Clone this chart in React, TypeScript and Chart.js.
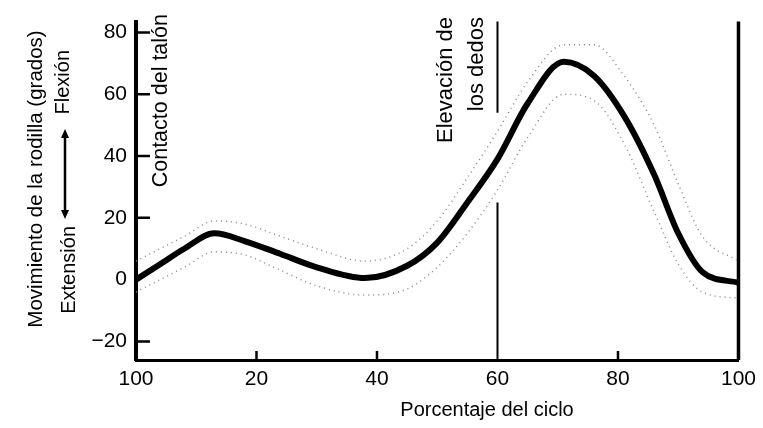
import React, { useEffect, useRef } from 'react';
import { Chart, registerables } from 'chart.js';

Chart.register(...registerables);

// ---- Data ----
const cyclePct = [0, 4, 8, 13, 18, 24, 30, 38, 45, 50, 55, 60, 65, 71, 76, 81, 86, 90, 94, 100];
const kneeMean = [0, 5, 10, 15, 12.5, 8.3, 4, 0.5, 4.5, 12, 25, 39, 57, 70.5, 66, 53, 34, 15, 2.5, -1];
const kneeUpper = [6, 10, 14, 19, 18, 14, 10, 6, 10, 19, 33, 48, 64, 76, 76, 66, 50, 31, 14, 6];
const kneeLower = [-4, 0, 4, 9, 8, 3, -2, -5, -3, 4, 15, 29, 46, 60, 58, 44, 22, 5, -4, -6];

const xTickValues = [0, 20, 40, 60, 80, 100];
const xTickLabels = ['100', '20', '40', '60', '80', '100'];
const yTickValues = [-20, 0, 20, 40, 60, 80];
const yTickLabels = ['\u221220', '0', '20', '40', '60', '80'];
const eventLines = [60, 100];
const toeOffGap = [25, 54];

const xTitle = 'Porcentaje del ciclo';
const yTitle = 'Movimiento de la rodilla (grados)';
const flexLabel = 'Flexión';
const extLabel = 'Extensión';
const heelLabel = 'Contacto del talón';
const toeLabel = ['Elevación de', 'los dedos'];

const FONT = '"Liberation Sans", Arial, Helvetica, sans-serif';

const pts = (ys: number[]) => cyclePct.map((x, i) => ({ x, y: ys[i] }));

const overlay = {
  id: 'overlay',
  beforeDatasetsDraw(chart: any) {
    const { ctx, chartArea, scales } = chart;
    const x = scales.x;
    const y = scales.y;
    ctx.save();
    ctx.strokeStyle = '#000';
    // toe-off line with gap around the curve
    const x60 = x.getPixelForValue(eventLines[0]);
    ctx.lineWidth = 2;
    ctx.beginPath();
    ctx.moveTo(x60, chartArea.top);
    ctx.lineTo(x60, y.getPixelForValue(toeOffGap[1]));
    ctx.moveTo(x60, y.getPixelForValue(toeOffGap[0]));
    ctx.lineTo(x60, chartArea.bottom);
    ctx.stroke();
    // end-of-cycle line
    const x100 = x.getPixelForValue(eventLines[1]);
    ctx.lineWidth = 3.5;
    ctx.beginPath();
    ctx.moveTo(x100, chartArea.top);
    ctx.lineTo(x100, chartArea.bottom);
    ctx.stroke();
    // inner tick marks
    ctx.lineWidth = 2.5;
    ctx.beginPath();
    for (const v of yTickValues) {
      if (v === 0) continue;
      const py = y.getPixelForValue(v);
      ctx.moveTo(chartArea.left, py);
      ctx.lineTo(chartArea.left + 14, py);
    }
    for (const v of xTickValues) {
      if (v === 0 || eventLines.includes(v)) continue;
      const px = x.getPixelForValue(v);
      ctx.moveTo(px, chartArea.bottom);
      ctx.lineTo(px, chartArea.bottom - 9);
    }
    ctx.stroke();
    ctx.restore();
  },
  afterDraw(chart: any) {
    const { ctx } = chart;
    ctx.save();
    ctx.fillStyle = '#000';
    const vText = (text: string, cx: number, topY: number, size: number, align: string = 'right') => {
      ctx.save();
      ctx.translate(cx, topY);
      ctx.rotate(-Math.PI / 2);
      ctx.textAlign = align;
      ctx.textBaseline = 'middle';
      ctx.font = `${size}px ${FONT}`;
      ctx.fillText(text, 0, 0);
      ctx.restore();
    };
    vText(yTitle, 36, 179, 20.5, 'center');
    vText(flexLabel, 63, 50, 20);
    vText(extLabel, 69, 226, 20);
    vText(heelLabel, 161, 14, 21.5);
    vText(toeLabel[0], 446, 17, 22);
    vText(toeLabel[1], 477, 17, 22);

    // double-headed arrow between Flexión and Extensión
    const ax = 65, ay1 = 129, ay2 = 219;
    ctx.strokeStyle = '#000';
    ctx.lineWidth = 2.5;
    ctx.beginPath();
    ctx.moveTo(ax, ay1 + 4);
    ctx.lineTo(ax, ay2 - 4);
    ctx.stroke();
    ctx.beginPath();
    ctx.moveTo(ax, ay1); ctx.lineTo(ax - 4, ay1 + 9); ctx.lineTo(ax + 4, ay1 + 9); ctx.closePath();
    ctx.moveTo(ax, ay2); ctx.lineTo(ax - 4, ay2 - 9); ctx.lineTo(ax + 4, ay2 - 9); ctx.closePath();
    ctx.fill();

    ctx.font = `20px ${FONT}`;
    ctx.textAlign = 'center';
    ctx.textBaseline = 'middle';
    ctx.fillText(xTitle, 487, 410);
    ctx.restore();
  },
};

export default function App() {
  const ref = useRef<HTMLCanvasElement | null>(null);

  useEffect(() => {
    if (!ref.current) return;
    const chart = new Chart(ref.current, {
      type: 'line',
      data: {
        datasets: [
          {
            data: pts(kneeUpper),
            borderColor: '#8a8a8a',
            borderWidth: 1.5,
            borderDash: [1, 4],
            pointRadius: 0,
            cubicInterpolationMode: 'monotone',
            fill: false,
          },
          {
            data: pts(kneeLower),
            borderColor: '#8a8a8a',
            borderWidth: 1.5,
            borderDash: [1, 4],
            pointRadius: 0,
            cubicInterpolationMode: 'monotone',
            fill: false,
          },
          {
            data: pts(kneeMean),
            borderColor: '#000',
            borderWidth: 6,
            borderCapStyle: 'round',
            pointRadius: 0,
            cubicInterpolationMode: 'monotone',
            fill: false,
          },
        ],
      } as any,
      options: {
        responsive: false,
        animation: false,
        devicePixelRatio: 1,
        layout: { padding: { top: 12, right: 19, left: 0, bottom: 0 } },
        plugins: { legend: { display: false }, tooltip: { enabled: false } },
        scales: {
          x: {
            type: 'linear',
            min: 0,
            max: 100,
            afterFit: (s: any) => { s.height = 68; },
            afterBuildTicks: (s: any) => { s.ticks = xTickValues.map((v) => ({ value: v })); },
            grid: { display: false, drawTicks: false },
            border: { display: true, color: '#000', width: 3 },
            ticks: {
              padding: 7,
              color: '#000',
              font: { family: FONT, size: 21 },
              maxRotation: 0,
              autoSkip: false,
              callback: (v: any) => xTickLabels[xTickValues.indexOf(Number(v))] ?? '',
            },
          },
          y: {
            type: 'linear',
            min: -26,
            max: 83.5,
            afterFit: (s: any) => { s.width = 136; },
            afterBuildTicks: (s: any) => { s.ticks = yTickValues.map((v) => ({ value: v })); },
            grid: { display: false, drawTicks: false },
            border: { display: true, color: '#000', width: 4 },
            ticks: {
              padding: 9,
              color: '#000',
              font: { family: FONT, size: 21 },
              autoSkip: false,
              callback: (v: any) => yTickLabels[yTickValues.indexOf(Number(v))] ?? '',
            },
          },
        },
      } as any,
      plugins: [overlay],
    });
    return () => chart.destroy();
  }, []);

  return (
    <div style={{ position: 'fixed', left: 0, top: 0, width: 763, height: 428, background: '#fff' }}>
      <canvas ref={ref} width={763} height={428} style={{ display: 'block' }} />
    </div>
  );
}
